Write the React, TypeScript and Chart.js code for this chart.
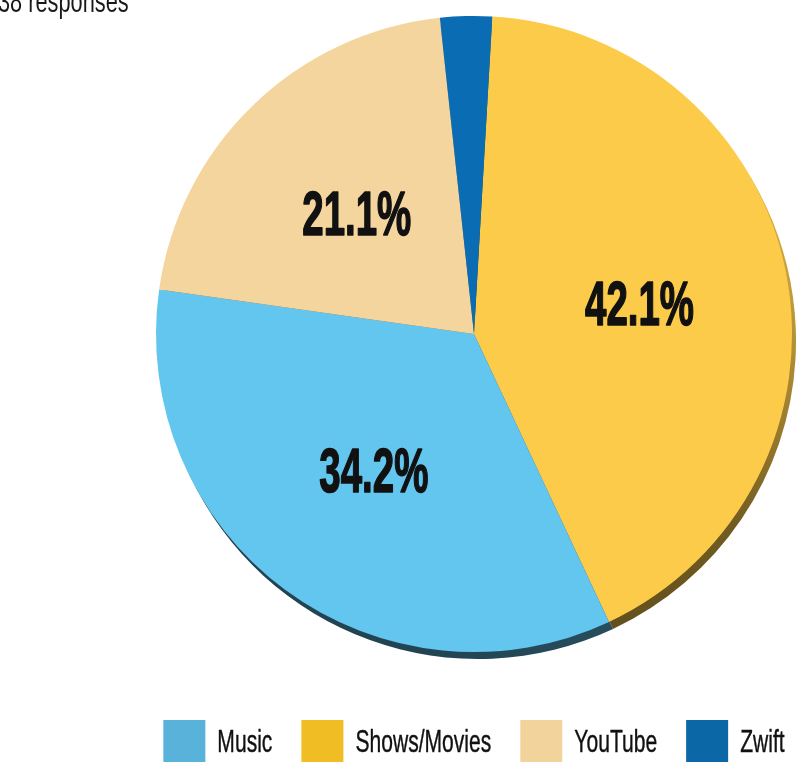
import React, { useEffect, useRef } from 'react';
import { Chart, registerables } from 'chart.js';

Chart.register(...registerables);

// ---- data ----
const categories = ['Music', 'Shows/Movies', 'YouTube', 'Zwift'];
const responses = [13, 16, 8, 1];
const sliceColors = ['#63C6EF', '#FCCB4A', '#F5D59E', '#0A6DB4'];
const legendColors = ['#58B2DA', '#F0BE24', '#F2D39B', '#0C67A7'];
// clockwise drawing order of the slices (indices into categories)
const pieOrder = [1, 0, 2, 3];
const titleText = '38 responses';

const FONT = "'Liberation Sans', Arial, sans-serif";
const SX = 0.68; // horizontal condensation of regular text

function hexToRgb(h: string) {
  const n = parseInt(h.slice(1), 16);
  return [(n >> 16) & 255, (n >> 8) & 255, n & 255];
}
function shade(h: string, f: number) {
  const [r, g, b] = hexToRgb(h);
  return `rgb(${Math.round(r * f)},${Math.round(g * f)},${Math.round(b * f)})`;
}

function drawText(
  ctx: CanvasRenderingContext2D,
  text: string,
  x: number,
  y: number,
  font: string,
  sx: number,
  align: 'left' | 'center',
  stroke = 0
) {
  ctx.save();
  ctx.font = font;
  const w = ctx.measureText(text).width * sx;
  const left = align === 'center' ? x - w / 2 : x;
  ctx.translate(left, y);
  ctx.scale(sx, 1);
  ctx.textAlign = 'left';
  ctx.textBaseline = 'alphabetic';
  ctx.fillText(text, 0, 0);
  if (stroke > 0) {
    ctx.strokeStyle = ctx.fillStyle as string;
    ctx.lineWidth = stroke;
    ctx.lineJoin = 'round';
    ctx.strokeText(text, 0, 0);
  }
  ctx.restore();
  return w;
}

const shadowPlugin = {
  id: 'rimShadow',
  beforeDatasetsDraw(chart: any) {
    const ctx: CanvasRenderingContext2D = chart.ctx;
    const meta = chart.getDatasetMeta(0);
    const colors = chart.data.datasets[0].backgroundColor as string[];
    const dx = 4, dy = 7;
    meta.data.forEach((arc: any, i: number) => {
      const { x, y, startAngle, endAngle, outerRadius } = arc.getProps(
        ['x', 'y', 'startAngle', 'endAngle', 'outerRadius'],
        true
      );
      const cx = x + dx, cy = y + dy, R = outerRadius;
      const g = ctx.createLinearGradient(cx + R * 0.8, cy - R * 0.5, cx - R * 0.2, cy + R);
      g.addColorStop(0, shade(colors[i], 0.85));
      g.addColorStop(0.5, shade(colors[i], 0.45));
      g.addColorStop(1, shade(colors[i], 0.34));
      ctx.save();
      ctx.beginPath();
      ctx.moveTo(cx, cy);
      ctx.arc(cx, cy, R, startAngle, endAngle);
      ctx.closePath();
      ctx.fillStyle = g;
      ctx.fill();
      ctx.restore();
    });
  },
};

const textPlugin = {
  id: 'texts',
  afterDraw(chart: any) {
    const ctx: CanvasRenderingContext2D = chart.ctx;
    const meta = chart.getDatasetMeta(0);
    const values = chart.data.datasets[0].data as number[];
    const total = values.reduce((a, b) => a + b, 0);

    // title
    ctx.fillStyle = '#1a1a1a';
    drawText(ctx, titleText, -2, 12, `32px ${FONT}`, SX, 'left');

    // percentage labels
    ctx.fillStyle = '#111111';
    meta.data.forEach((arc: any, i: number) => {
      const pct = (values[i] / total) * 100;
      if (pct < 5) return;
      const { x, y, startAngle, endAngle, outerRadius } = arc.getProps(
        ['x', 'y', 'startAngle', 'endAngle', 'outerRadius'],
        true
      );
      const mid = (startAngle + endAngle) / 2;
      const r = outerRadius * 0.53;
      const lx = x + Math.cos(mid) * r;
      const ly = y + Math.sin(mid) * r;
      drawText(ctx, pct.toFixed(1) + '%', lx, ly + 22.5, `bold 63px ${FONT}`, 0.61, 'center', 1.6);
    });

    // legend
    const box = 42, pad = 12, gap = 29;
    const lfont = `31px ${FONT}`;
    ctx.font = lfont;
    const widths = categories.map((c) => ctx.measureText(c).width * SX);
    const totalW =
      widths.reduce((a, w) => a + box + pad + w, 0) + gap * (categories.length - 1);
    const area = chart.chartArea;
    let cx = (area.left + area.right) / 2 - totalW / 2;
    const top = 720;
    categories.forEach((c, i) => {
      ctx.fillStyle = legendColors[i];
      ctx.fillRect(cx, top, box, box);
      ctx.fillStyle = '#111111';
      drawText(ctx, c, cx + box + pad, top + box / 2 + 11, lfont, SX, 'left', 0.4);
      cx += box + pad + widths[i] + gap;
    });
  },
};

export default function App() {
  const ref = useRef<HTMLCanvasElement | null>(null);
  useEffect(() => {
    document.body.style.margin = '0';
    const canvas = ref.current!;
    const chart = new Chart(canvas, {
      type: 'pie',
      data: {
        labels: pieOrder.map((i) => categories[i]),
        datasets: [
          {
            data: pieOrder.map((i) => responses[i]),
            backgroundColor: pieOrder.map((i) => sliceColors[i]),
            borderWidth: 0,
            hoverOffset: 0,
          },
        ],
      },
      options: {
        responsive: false,
        animation: false,
        rotation: 3.3,
        layout: { padding: { top: 16, bottom: 110, left: 156, right: 7 } },
        plugins: {
          legend: { display: false },
          tooltip: { enabled: false },
        },
      },
      plugins: [shadowPlugin, textPlugin],
    });
    return () => chart.destroy();
  }, []);
  return (
    <div style={{ width: 799, height: 762, background: '#ffffff' }}>
      <canvas ref={ref} width={799} height={762} style={{ display: 'block' }} />
    </div>
  );
}
